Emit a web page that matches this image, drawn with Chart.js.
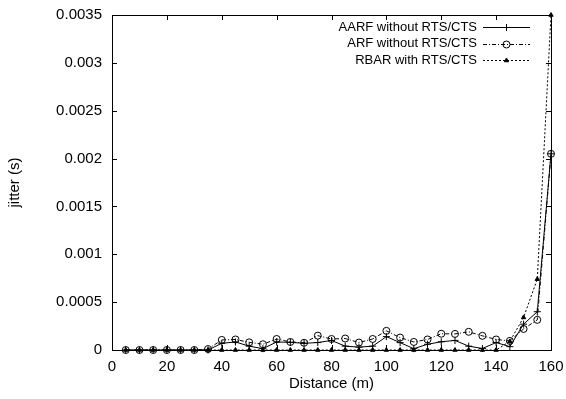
<!doctype html>
<html>
<head>
    <title>Jitter vs distance</title>
    <meta charset="utf-8">
    <style>
        body {
            background: #fff;
            margin: 0;
        }
    </style>
    <script src="https://cdn.jsdelivr.net/npm/chart.js@4/dist/chart.umd.min.js"></script>
</head>
<body>
<canvas id="chart" width="566" height="399"></canvas>
<script>
    "use strict";

    let distance = [5, 10, 15, 20, 25, 30, 35, 40, 45, 50, 55, 60, 65, 70, 75, 80,
        85, 90, 95, 100, 105, 110, 115, 120, 125, 130, 135, 140, 145, 150, 155, 160];

    let aarf = [0, 0, 0, 0, 0, 0, 0, 0.00007, 0.000084, 0.00004, 0.000014, 0.000084, 0.00008, 0.00007, 0.000078, 0.0001,
        0.00004, 0.00003, 0.00004, 0.00014, 0.000077, 0.000014, 0.00006, 0.000086, 0.0001, 0.00004, 0.000016, 0.000078, 0.000035, 0.00027, 0.0004, 0.00205];

    let arf = [0, 0, 0, 0, 0, 0, 0.00001, 0.000105, 0.00011, 0.00008, 0.00006, 0.000115, 0.000084, 0.000075, 0.00015, 0.000115,
        0.00012, 0.000078, 0.000115, 0.0002, 0.00013, 0.000084, 0.00011, 0.00017, 0.000168, 0.00019, 0.000148, 0.00011, 0.000095, 0.00022, 0.000315, 0.00205];

    let rbar = [0, 0, 0, 0, 0, 0, 0, 0, 0, 0, 0, 0, 0, 0, 0, 0,
        0, 0, 0, 0, 0, 0, 0, 0, 0, 0, 0, 0, 0.00009, 0.00034, 0.00074, 0.0035];

    let seriesNames = ["AARF without RTS/CTS", "ARF without RTS/CTS", "RBAR with RTS/CTS"];

    let xTicks = [0, 20, 40, 60, 80, 100, 120, 140, 160];
    let yTicks = [0, 0.0005, 0.001, 0.0015, 0.002, 0.0025, 0.003, 0.0035];

    let fontFamily = "'Liberation Sans', Arial, Helvetica, sans-serif";

    function points(values) {
        return distance.map(function (d, i) {
            return {x: d, y: values[i]};
        });
    }

    // gnuplot style frame: box round the plot with inward ticks on all sides
    let frame = {
        id: "frame",
        afterDatasetsDraw: function (chart) {
            let ctx = chart.ctx;
            let area = chart.chartArea;
            let tick = 5;
            ctx.save();
            ctx.strokeStyle = "#000";
            ctx.lineWidth = 1;
            ctx.beginPath();
            xTicks.forEach(function (v) {
                let px = Math.round(chart.scales.x.getPixelForValue(v)) + 0.5;
                ctx.moveTo(px, area.bottom);
                ctx.lineTo(px, area.bottom - tick);
                ctx.moveTo(px, area.top);
                ctx.lineTo(px, area.top + tick);
            });
            yTicks.forEach(function (v) {
                let py = Math.round(chart.scales.y.getPixelForValue(v)) + 0.5;
                ctx.moveTo(area.left, py);
                ctx.lineTo(area.left + tick, py);
                ctx.moveTo(area.right, py);
                ctx.lineTo(area.right - tick, py);
            });
            ctx.stroke();
            ctx.strokeRect(Math.round(area.left) + 0.5, Math.round(area.top) + 0.5,
                Math.round(area.right - area.left), Math.round(area.bottom - area.top));
            ctx.restore();
        },
    };

    // key in the top right corner: text right aligned, then a line sample
    let key = {
        id: "key",
        afterDraw: function (chart) {
            let ctx = chart.ctx;
            let area = chart.chartArea;
            let textRight = area.right - 74;
            let lineLeft = area.right - 68;
            let lineRight = area.right - 21;
            ctx.save();
            ctx.font = "13px " + fontFamily;
            ctx.textAlign = "right";
            ctx.textBaseline = "middle";
            chart.data.datasets.forEach(function (ds, i) {
                let y = area.top + 12 + i * 16.5;
                ctx.fillStyle = "#000";
                ctx.fillText(ds.label, textRight, y);
                ctx.strokeStyle = "#000";
                ctx.lineWidth = 1;
                ctx.setLineDash(ds.borderDash || []);
                ctx.beginPath();
                ctx.moveTo(lineLeft, Math.round(y) + 0.5);
                ctx.lineTo(lineRight, Math.round(y) + 0.5);
                ctx.stroke();
                ctx.setLineDash([]);
                ctx.fillStyle = ds.pointBackgroundColor;
                Chart.helpers.drawPoint(ctx, {
                    pointStyle: ds.pointStyle,
                    radius: ds.pointRadius,
                    rotation: 0,
                    borderWidth: 1,
                }, (lineLeft + lineRight) / 2, Math.round(y) + 0.5);
            });
            ctx.restore();
        },
    };

    new Chart(document.getElementById("chart"), {
        type: "line",
        data: {
            datasets: [
                {
                    label: seriesNames[0],
                    data: points(aarf),
                    borderColor: "#000",
                    borderWidth: 1,
                    pointStyle: "cross",
                    pointRadius: 3.5,
                    pointBorderColor: "#000",
                    pointBackgroundColor: "#000",
                    pointBorderWidth: 1,
                },
                {
                    label: seriesNames[1],
                    data: points(arf),
                    borderColor: "#000",
                    borderWidth: 1,
                    borderDash: [4, 2, 1, 2],
                    pointStyle: "circle",
                    pointRadius: 3.5,
                    pointBorderColor: "#000",
                    pointBackgroundColor: "rgba(0,0,0,0)",
                    pointBorderWidth: 1,
                },
                {
                    label: seriesNames[2],
                    data: points(rbar),
                    borderColor: "#000",
                    borderWidth: 1,
                    borderDash: [2, 2],
                    pointStyle: "triangle",
                    pointRadius: 2.5,
                    pointBorderColor: "#000",
                    pointBackgroundColor: "#000",
                    pointBorderWidth: 1,
                },
            ],
        },
        options: {
            responsive: false,
            animation: false,
            devicePixelRatio: 1,
            clip: false,
            layout: {
                padding: {top: 15, right: 15, bottom: 0, left: 0},
            },
            plugins: {
                legend: {display: false},
                tooltip: {enabled: false},
            },
            scales: {
                x: {
                    type: "linear",
                    min: 0,
                    max: 160,
                    afterFit: function (scale) {
                        scale.height = 49;
                        scale.paddingLeft = 0;
                        scale.paddingRight = 0;
                    },
                    afterBuildTicks: function (scale) {
                        scale.ticks = xTicks.map(function (v) {
                            return {value: v};
                        });
                    },
                    grid: {display: false, drawTicks: false},
                    border: {display: false},
                    ticks: {
                        color: "#000",
                        padding: 8,
                        maxRotation: 0,
                        font: {family: fontFamily, size: 15},
                    },
                    title: {
                        display: true,
                        text: "Distance (m)",
                        color: "#000",
                        padding: {top: 0, bottom: 6},
                        font: {family: fontFamily, size: 15},
                    },
                },
                y: {
                    min: 0,
                    max: 0.0035,
                    afterFit: function (scale) {
                        scale.width = 112;
                        scale.paddingTop = 0;
                        scale.paddingBottom = 0;
                    },
                    afterBuildTicks: function (scale) {
                        scale.ticks = yTicks.map(function (v) {
                            return {value: v};
                        });
                    },
                    grid: {display: false, drawTicks: false},
                    border: {display: false},
                    ticks: {
                        color: "#000",
                        padding: 10,
                        font: {family: fontFamily, size: 15},
                        callback: function (v) {
                            return String(Number(v.toFixed(4)));
                        },
                    },
                    title: {
                        display: true,
                        text: "jitter (s)",
                        color: "#000",
                        padding: {top: 6, bottom: 0},
                        font: {family: fontFamily, size: 15},
                    },
                },
            },
        },
        plugins: [frame, key],
    });
</script>
</body>
</html>
